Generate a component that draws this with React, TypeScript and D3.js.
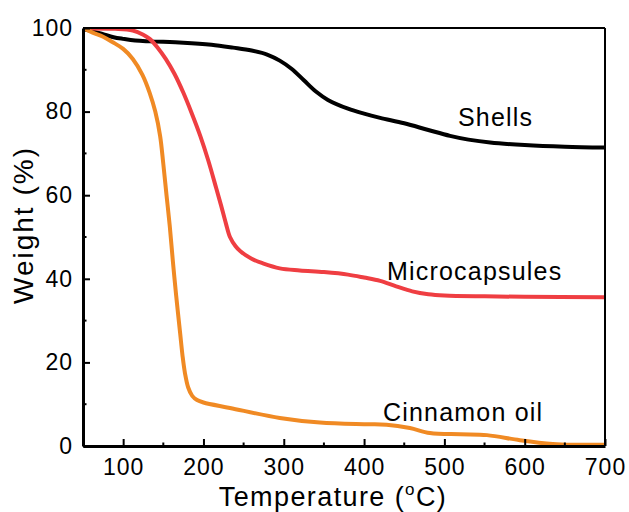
import { useRef, useEffect } from 'react';
import * as d3 from 'd3';

// TGA curves
const shellsTemp = [50, 62, 75, 88, 100, 115, 133, 175, 210, 237, 260, 280, 295, 310, 325, 340, 355, 380, 400, 420, 450, 480, 507, 530, 557, 600, 650, 700];
const shellsWeight = [99.7, 99.2, 98.5, 97.8, 97.4, 97.0, 96.8, 96.5, 96.0, 95.3, 94.6, 93.6, 92.2, 90.2, 87.5, 84.8, 82.8, 80.7, 79.5, 78.5, 77.2, 75.6, 74.2, 73.3, 72.6, 72.0, 71.6, 71.4];

const microTemp = [50, 90, 112, 125, 133, 143, 153, 164, 175, 185, 196, 206, 216, 222, 228, 233, 240, 246, 260, 274, 295, 320, 350, 380, 400, 420, 440, 460, 480, 500, 550, 600, 700];
const microWeight = [99.9, 99.8, 99.4, 98.4, 97.4, 95.3, 92.6, 89.0, 84.5, 79.8, 74.2, 68.3, 61.6, 57.5, 53.2, 50.0, 47.8, 46.6, 44.8, 43.7, 42.5, 42.0, 41.6, 41.0, 40.3, 39.5, 38.2, 37.0, 36.3, 36.0, 35.8, 35.7, 35.6];

const oilTemp = [50, 62, 75, 87, 100, 112, 124, 133, 140, 146, 150, 154, 158, 162, 166, 171, 174, 177, 181, 186, 192, 200, 233, 295, 345, 400, 428, 457, 482, 520, 553, 594, 635, 660, 700];
const oilWeight = [100, 98.9, 97.9, 96.6, 95.0, 92.6, 88.8, 84.5, 80.0, 74.2, 67.5, 60.0, 52.7, 44.0, 36.0, 26.9, 21.5, 17.4, 14.0, 12.0, 11.0, 10.4, 9.1, 6.7, 5.6, 5.2, 5.1, 4.3, 3.1, 2.8, 2.6, 1.4, 0.5, 0.3, 0.3];

const xTicks = [100, 200, 300, 400, 500, 600, 700];
const xMinor = [150, 250, 350, 450, 550, 650];
const yTicks = [0, 20, 40, 60, 80, 100];
const yMinor = [10, 30, 50, 70, 90];

const series = [
  { name: 'Shells', temp: shellsTemp, weight: shellsWeight, color: '#000000', lx: 458, ly: 126 },
  { name: 'Microcapsules', temp: microTemp, weight: microWeight, color: '#ef3e42', lx: 387, ly: 280 },
  { name: 'Cinnamon oil', temp: oilTemp, weight: oilWeight, color: '#f08a24', lx: 383, ly: 421 },
];

export default function App() {
  const ref = useRef<SVGSVGElement>(null);

  useEffect(() => {
    if (!ref.current) return;
    const svg = d3.select(ref.current);
    svg.selectAll('*').remove();

    const left = 83, right = 605, top = 28, bottom = 446;
    const font = 'Liberation Sans, Arial, sans-serif';

    const x = d3.scaleLinear().domain([50, 700]).range([left, right]);
    const y = d3.scaleLinear().domain([0, 100]).range([bottom, top]);

    svg.append('defs').append('clipPath').attr('id', 'plot')
      .append('rect').attr('x', left).attr('y', top).attr('width', right - left).attr('height', bottom - top);

    const line = d3.line<[number, number]>()
      .x(d => x(d[0]))
      .y(d => y(d[1]))
      .curve(d3.curveCatmullRom.alpha(0.5));

    const g = svg.append('g').attr('clip-path', 'url(#plot)');
    series.forEach(s => {
      const pts = s.temp.map((t, i) => [t, s.weight[i]] as [number, number]);
      g.append('path')
        .attr('d', line(pts))
        .attr('fill', 'none')
        .attr('stroke', s.color)
        .attr('stroke-width', 4)
        .attr('stroke-linejoin', 'round');
    });

    // frame
    svg.append('line').attr('x1', left).attr('x2', right).attr('y1', top).attr('y2', top).attr('stroke', '#000').attr('stroke-width', 2);
    svg.append('line').attr('x1', right).attr('x2', right).attr('y1', top).attr('y2', bottom).attr('stroke', '#000').attr('stroke-width', 2);

    const xAxis = d3.axisBottom(x).tickValues(xTicks).tickSizeInner(-7).tickSizeOuter(0).tickPadding(13);
    const gx = svg.append('g').attr('transform', `translate(0,${bottom})`).call(xAxis);
    gx.select('.domain').attr('stroke-width', 3);
    gx.selectAll('.tick line').attr('stroke-width', 2);
    gx.selectAll('.tick text').attr('font-size', 23).attr('letter-spacing', 1).attr('font-family', font).attr('fill', '#000');

    const yAxis = d3.axisLeft(y).tickValues(yTicks).tickSizeInner(-7).tickSizeOuter(0).tickPadding(10);
    const gy = svg.append('g').attr('transform', `translate(${left},0)`).call(yAxis);
    gy.select('.domain').attr('stroke-width', 3);
    gy.selectAll('.tick line').attr('stroke-width', 2);
    gy.selectAll('.tick text').attr('font-size', 23).attr('letter-spacing', 1).attr('font-family', font).attr('fill', '#000');

    // minor ticks
    svg.append('g').selectAll('line').data(xMinor).join('line')
      .attr('x1', d => x(d)).attr('x2', d => x(d))
      .attr('y1', bottom).attr('y2', bottom - 3.5)
      .attr('stroke', '#000').attr('stroke-width', 2);
    svg.append('g').selectAll('line').data(yMinor).join('line')
      .attr('x1', left).attr('x2', left + 3.5)
      .attr('y1', d => y(d)).attr('y2', d => y(d))
      .attr('stroke', '#000').attr('stroke-width', 2);

    // series labels
    series.forEach(s => {
      svg.append('text').attr('x', s.lx).attr('y', s.ly)
        .attr('font-family', font).attr('font-size', 25).attr('letter-spacing', 1.2).attr('fill', '#000')
        .text(s.name);
    });

    // axis titles
    const xt = svg.append('text').attr('x', 333).attr('y', 506)
      .attr('text-anchor', 'middle').attr('font-family', font).attr('font-size', 27)
      .attr('letter-spacing', 1.4).attr('fill', '#000');
    xt.append('tspan').text('Temperature (');
    xt.append('tspan').attr('font-size', 17).attr('dy', -11).text('o');
    xt.append('tspan').attr('dy', 11).text('C)');

    svg.append('text')
      .attr('transform', `translate(33,225) rotate(-90)`)
      .attr('text-anchor', 'middle').attr('font-family', font).attr('font-size', 28)
      .attr('letter-spacing', 2).attr('fill', '#000')
      .text('Weight (%)');
  }, []);

  return (
    <svg ref={ref} width={629} height={512} style={{ position: 'absolute', left: 0, top: 0, background: '#fff' }} />
  );
}
